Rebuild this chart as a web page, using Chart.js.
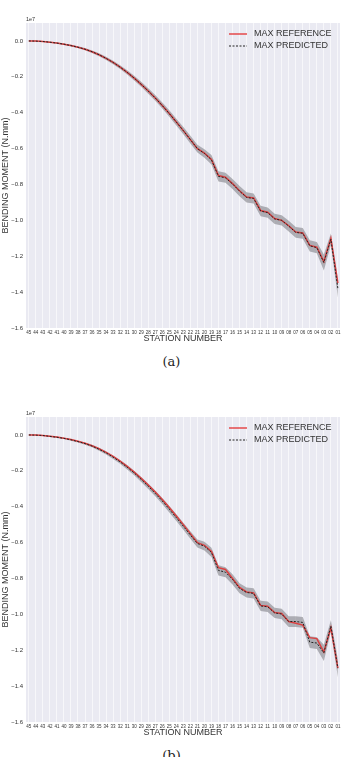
<!DOCTYPE html>
<html>
<head>
<meta charset="utf-8">
<script src="https://cdn.jsdelivr.net/npm/chart.js@4.4.0/dist/chart.umd.min.js"></script>
<style>
  body { margin: 0; background: #fff; width: 343px; height: 757px; overflow: hidden; position: relative; }
  .panel { position: absolute; left: 0; width: 343px; height: 352px; }
  .caption { position: absolute; left: 0; width: 343px; text-align: center; font-family: "DejaVu Serif", "Liberation Serif", serif; font-size: 13px; color: #222; }
</style>
</head>
<body>
<div class="panel" style="top:0"><canvas id="chart-a"></canvas></div>
<div class="caption" style="top:354px">(a)</div>
<div class="panel" style="top:394px"><canvas id="chart-b"></canvas></div>
<div class="caption" style="top:748px">(b)</div>

<script>
// station labels, root (45) to tip (01)
const stations = [
  '45', '44', '43', '42', '41', '40', '39', '38', '37', '36',
  '35', '34', '33', '32', '31', '30', '29', '28', '27', '26',
  '25', '24', '23', '22', '21', '20', '19', '18', '17', '16',
  '15', '14', '13', '12', '11', '10', '09', '08', '07', '06',
  '05', '04', '03', '02', '01'
];
const yTicks = [0, -0.2, -0.4, -0.6, -0.8, -1.0, -1.2, -1.4, -1.6];

// bending moment, x 1e7 N.mm
const refA = [
  0, -0.001, -0.003, -0.007, -0.012, -0.018, -0.026, -0.035, -0.046, -0.06,
  -0.077, -0.097, -0.12, -0.146, -0.175, -0.207, -0.242, -0.279, -0.318, -0.36,
  -0.405, -0.452, -0.5, -0.55, -0.6, -0.625, -0.66, -0.75, -0.76, -0.795,
  -0.835, -0.87, -0.875, -0.945, -0.955, -0.99, -1.0, -1.03, -1.065, -1.07,
  -1.14, -1.15, -1.23, -1.1, -1.35
];
const predA = [
  0, -0.001, -0.003, -0.007, -0.012, -0.018, -0.026, -0.035, -0.046, -0.06,
  -0.077, -0.097, -0.12, -0.146, -0.175, -0.207, -0.242, -0.279, -0.318, -0.36,
  -0.405, -0.452, -0.5, -0.55, -0.6, -0.627, -0.662, -0.755, -0.763, -0.797,
  -0.837, -0.872, -0.878, -0.948, -0.957, -0.992, -1.0, -1.032, -1.067, -1.072,
  -1.142, -1.152, -1.235, -1.105, -1.38
];
const spreadA = [
  0.002, 0.002, 0.003, 0.003, 0.004, 0.004, 0.005, 0.005, 0.006, 0.007,
  0.008, 0.009, 0.01, 0.011, 0.012, 0.013, 0.014, 0.015, 0.016, 0.017,
  0.018, 0.019, 0.02, 0.021, 0.022, 0.024, 0.026, 0.028, 0.028, 0.028,
  0.028, 0.028, 0.028, 0.029, 0.029, 0.029, 0.029, 0.03, 0.03, 0.03,
  0.031, 0.031, 0.045, 0.032, 0.05
];

const refB = [
  0, -0.001, -0.003, -0.007, -0.012, -0.018, -0.026, -0.035, -0.046, -0.06,
  -0.077, -0.097, -0.12, -0.146, -0.175, -0.207, -0.242, -0.279, -0.318, -0.36,
  -0.405, -0.452, -0.5, -0.55, -0.6, -0.615, -0.65, -0.74, -0.75, -0.8,
  -0.85, -0.875, -0.88, -0.95, -0.955, -0.99, -0.995, -1.04, -1.05, -1.06,
  -1.13, -1.135, -1.21, -1.075, -1.3
];
const predB = [
  0, -0.001, -0.003, -0.008, -0.013, -0.019, -0.027, -0.037, -0.048, -0.062,
  -0.08, -0.1, -0.124, -0.15, -0.18, -0.212, -0.248, -0.286, -0.326, -0.368,
  -0.414, -0.461, -0.509, -0.558, -0.605, -0.62, -0.655, -0.755, -0.765, -0.805,
  -0.855, -0.878, -0.883, -0.953, -0.958, -0.992, -0.998, -1.04, -1.04, -1.045,
  -1.155, -1.16, -1.215, -1.065, -1.3
];
const spreadB = [
  0.002, 0.002, 0.003, 0.003, 0.004, 0.004, 0.005, 0.005, 0.006, 0.007,
  0.008, 0.009, 0.01, 0.011, 0.012, 0.013, 0.014, 0.015, 0.016, 0.017,
  0.018, 0.019, 0.02, 0.021, 0.022, 0.024, 0.026, 0.028, 0.028, 0.028,
  0.028, 0.028, 0.028, 0.029, 0.029, 0.029, 0.029, 0.03, 0.03, 0.03,
  0.033, 0.033, 0.045, 0.032, 0.05
];

const font = '"Liberation Sans", Arial, sans-serif';
const refColor = 'rgba(228, 45, 45, 0.85)';

const plotDecor = {
  id: 'plotDecor',
  beforeDraw(chart) {
    const { ctx, chartArea: a } = chart;
    ctx.save();
    ctx.fillStyle = '#eaeaf2';
    ctx.fillRect(a.left, a.top, a.right - a.left, a.bottom - a.top);
    ctx.fillStyle = '#333';
    ctx.font = '5.5px ' + font;
    ctx.textBaseline = 'bottom';
    ctx.fillText('1e7', a.left, a.top - 1);
    ctx.restore();
  },
  afterDraw(chart) {
    const { ctx, chartArea: a } = chart;
    const x0 = a.right - 111;
    ctx.save();
    ctx.lineWidth = 1.5;
    ctx.strokeStyle = refColor;
    ctx.beginPath();
    ctx.moveTo(x0, a.top + 11);
    ctx.lineTo(x0 + 18, a.top + 11);
    ctx.stroke();
    ctx.lineWidth = 1;
    ctx.strokeStyle = '#222';
    ctx.setLineDash([2, 1.5]);
    ctx.beginPath();
    ctx.moveTo(x0, a.top + 23);
    ctx.lineTo(x0 + 18, a.top + 23);
    ctx.stroke();
    ctx.setLineDash([]);
    ctx.fillStyle = '#333';
    ctx.font = '9px ' + font;
    ctx.textBaseline = 'middle';
    ctx.fillText('MAX REFERENCE', x0 + 25, a.top + 11);
    ctx.fillText('MAX PREDICTED', x0 + 25, a.top + 23);
    ctx.restore();
  }
};

function toPoints(values) {
  return values.map((v, i) => ({ x: i, y: v }));
}

function makeChart(id, ref, pred, spread) {
  const upper = pred.map((v, i) => v + spread[i]);
  const lower = pred.map((v, i) => v - spread[i]);
  return new Chart(document.getElementById(id), {
    type: 'line',
    data: {
      datasets: [
        { data: toPoints(upper), borderWidth: 0, pointRadius: 0, fill: false, order: 3 },
        { data: toPoints(lower), borderWidth: 0, pointRadius: 0, fill: '-1',
          backgroundColor: 'rgba(110, 110, 115, 0.5)', order: 3 },
        { label: 'MAX REFERENCE', data: toPoints(ref), borderColor: refColor, borderWidth: 1.5,
          pointRadius: 0, tension: 0, order: 1 },
        { label: 'MAX PREDICTED', data: toPoints(pred), borderColor: '#222', borderWidth: 1,
          borderDash: [2, 1.5], pointRadius: 0, tension: 0, order: 0 }
      ]
    },
    options: {
      responsive: true,
      maintainAspectRatio: false,
      animation: false,
      layout: { padding: { top: 23, right: 3, left: 0, bottom: 8 } },
      plugins: { legend: { display: false }, tooltip: { enabled: false } },
      scales: {
        x: {
          type: 'linear',
          min: -0.4,
          max: 44.3,
          afterBuildTicks: (s) => { s.ticks = stations.map((_, i) => ({ value: i })); },
          afterFit: (s) => { s.height = 16; },
          border: { display: false },
          grid: { color: 'rgba(255, 255, 255, 0.8)', lineWidth: 0.8, drawTicks: false },
          ticks: {
            autoSkip: false, maxRotation: 0, minRotation: 0, padding: 2,
            color: '#333', font: { family: font, size: 4.5 },
            callback: (v) => stations[v]
          },
          title: { display: true, text: 'STATION NUMBER', color: '#333',
                   font: { family: font, size: 9 }, padding: 0 }
        },
        y: {
          min: -1.6,
          max: 0.1,
          afterBuildTicks: (s) => { s.ticks = yTicks.map(v => ({ value: v })); },
          afterFit: (s) => { s.width = 26; },
          border: { display: false },
          grid: { display: false, drawTicks: false, tickLength: 0 },
          ticks: {
            padding: 3, color: '#333', font: { family: font, size: 6 },
            callback: (v) => (v === 0 ? '0.0' : '\u2212' + Math.abs(v).toFixed(1))
          },
          title: { display: true, text: 'BENDING MOMENT (N.mm)', color: '#333',
                   font: { family: font, size: 9 }, padding: 0 }
        }
      }
    },
    plugins: [plotDecor]
  });
}

makeChart('chart-a', refA, predA, spreadA);
makeChart('chart-b', refB, predB, spreadB);
</script>
</body>
</html>
